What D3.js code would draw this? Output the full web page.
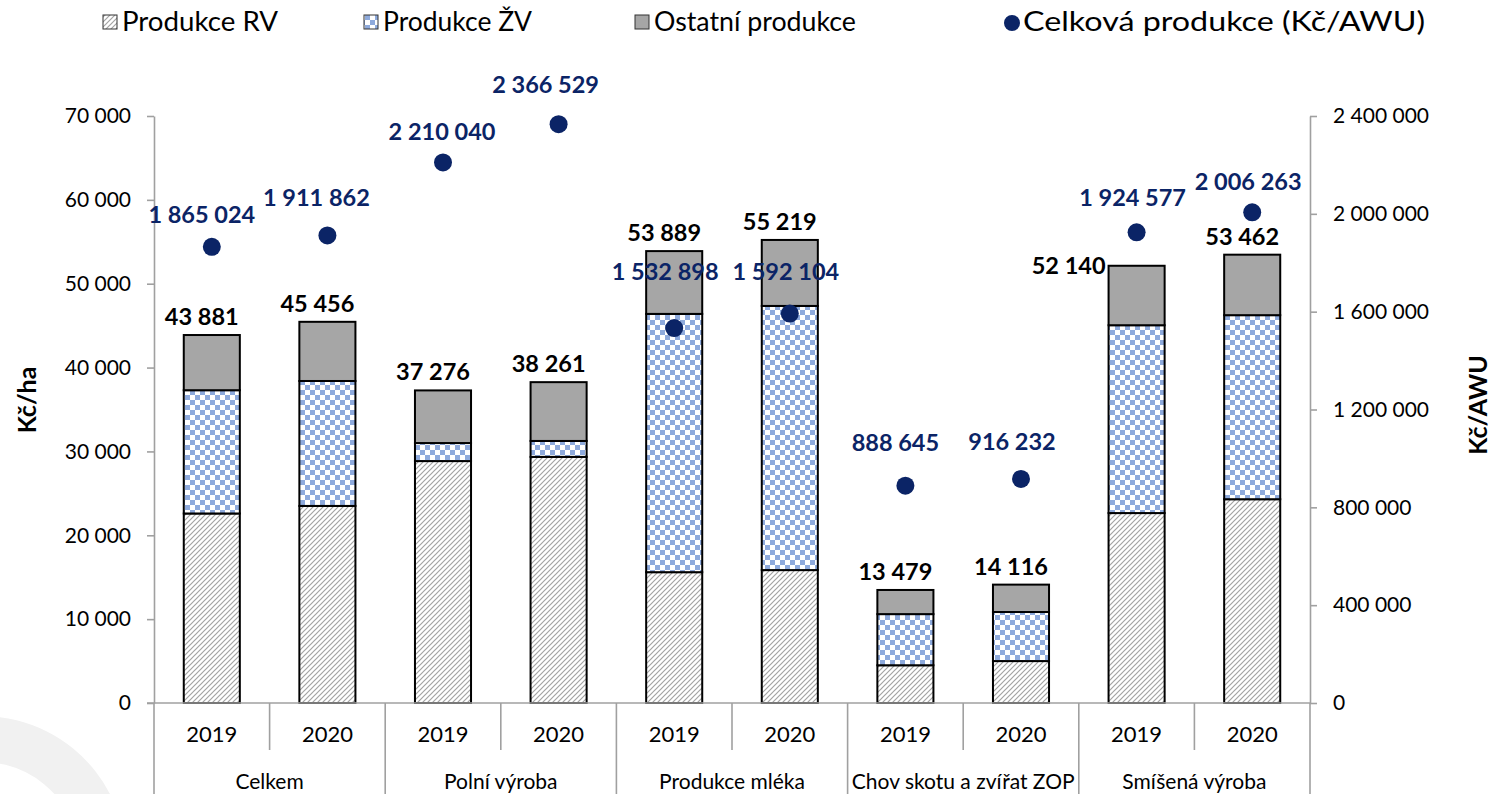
<!DOCTYPE html>
<html><head><meta charset="utf-8">
<script src="https://cdn.jsdelivr.net/npm/d3@7"></script>
<style>
html,body{margin:0;padding:0;background:#fff;}
svg{display:block;font-family:Lato,"Open Sans",sans-serif;}
</style></head>
<body><svg id="chart" width="1493" height="794"></svg>
<script>
const groups = ["Celkem","Polní výroba","Produkce mléka","Chov skotu a zvířat ZOP","Smíšená výroba"];
const years = ["2019","2020"];
const produkceRV = [22600, 23500, 28850, 29350, 15600, 15850, 4500, 5000, 22650, 24300];
const produkceZV = [14700, 14900, 2150, 1900, 30800, 31500, 6100, 5850, 22400, 21950];
const celkemHa = [43881, 45456, 37276, 38261, 53889, 55219, 13479, 14116, 52140, 53462];
const celkemAWU = [1865024, 1911862, 2210040, 2366529, 1532898, 1592104, 888645, 916232, 1924577, 2006263];
const leftTicks = [0,10000,20000,30000,40000,50000,60000,70000];
const rightTicks = [0,400000,800000,1200000,1600000,2000000,2400000];
const seriesNames = ["Produkce RV","Produkce ŽV","Ostatní produkce","Celková produkce (Kč/AWU)"];

const ostatni = celkemHa.map((t,i)=>t - produkceRV[i] - produkceZV[i]);
const keys = d3.range(celkemHa.length);
const rows = keys.map(i=>({i, rv:produkceRV[i], zv:produkceZV[i], ost:ostatni[i]}));

const svg = d3.select("#chart");
const fmt = v => d3.format(",")(v).replace(/,/g," ");
const axisCol = "#a0a0a0";
const navy = "#0b2466";

// watermark arc
svg.append("path")
  .attr("d", d3.arc()({innerRadius:98, outerRadius:144, startAngle:-0.2, endAngle:Math.PI/2}))
  .attr("transform","translate(-18,860)")
  .attr("fill","#f1f1f1");

// patterns
const defs = svg.append("defs");
const ph = defs.append("pattern").attr("id","hatch").attr("patternUnits","userSpaceOnUse")
  .attr("width",5).attr("height",5);
ph.append("rect").attr("width",5).attr("height",5).attr("fill","#fff");
ph.append("path").attr("d","M-1,1 L1,-1 M0,5 L5,0 M4,6 L6,4").attr("stroke","#a3a3a3").attr("stroke-width",1.2);
const pc = defs.append("pattern").attr("id","check").attr("patternUnits","userSpaceOnUse")
  .attr("width",10).attr("height",10);
pc.append("rect").attr("width",10).attr("height",10).attr("fill","#fff");
pc.append("rect").attr("width",5).attr("height",5).attr("fill","#8eaadc");
pc.append("rect").attr("x",5).attr("y",5).attr("width",5).attr("height",5).attr("fill","#8eaadc");

const x0 = 154, x1 = 1310, yTop = 116, yBase = 703;
const x = d3.scaleBand().domain(keys).range([x0,x1]).paddingInner(0.515).paddingOuter(0.2575);
const y = d3.scaleLinear().domain([0,70000]).range([yBase,yTop]);
const y2 = d3.scaleLinear().domain([0,2400000]).range([yBase,yTop]);

// stacked bars
const stack = d3.stack().keys(["rv","zv","ost"]);
const fills = {rv:"url(#hatch)", zv:"url(#check)", ost:"#a6a6a6"};
const layers = stack(rows);
svg.append("g").selectAll("g").data(layers).join("g")
  .attr("fill", d=>fills[d.key])
  .selectAll("rect").data(d=>d).join("rect")
  .attr("x", d=>x(d.data.i)).attr("width", x.bandwidth())
  .attr("y", d=>y(d[1])).attr("height", d=>y(d[0])-y(d[1]))
  .attr("stroke","#000").attr("stroke-width",2);

// axes
const gl = svg.append("g").attr("transform",`translate(${x0},0)`)
  .call(d3.axisLeft(y).tickValues(leftTicks).tickFormat(fmt).tickSize(7).tickSizeOuter(0).tickPadding(16));
const gr = svg.append("g").attr("transform",`translate(${x1},0)`)
  .call(d3.axisRight(y2).tickValues(rightTicks).tickFormat(fmt).tickSize(7).tickSizeOuter(0).tickPadding(16));
[gl,gr].forEach(g=>{
  g.selectAll("path,line").attr("stroke",axisCol).attr("stroke-width",1.6);
  g.selectAll("text").attr("font-size",21).attr("fill","#000").attr("font-family","Lato");
});
// baseline + extended category axis
svg.append("line").attr("x1",x0-7).attr("x2",x1).attr("y1",yBase).attr("y2",yBase)
  .attr("stroke",axisCol).attr("stroke-width",1.6);
svg.append("line").attr("x1",x0).attr("x2",x0).attr("y1",yBase).attr("y2",794)
  .attr("stroke",axisCol).attr("stroke-width",1.6);
const step = x.step();
keys.forEach(i=>{
  const xe = x0 + step*(i+1);
  svg.append("line").attr("x1",xe).attr("x2",xe).attr("y1",yBase)
    .attr("y2", i%2===1 ? 794 : 750).attr("stroke",axisCol).attr("stroke-width",1.6);
  svg.append("text").attr("x", x(i)+x.bandwidth()/2).attr("y",742)
    .attr("text-anchor","middle").attr("font-size",22).text(years[i%2]);
});
groups.forEach((g,j)=>{
  svg.append("text").attr("x", x0 + step*(2*j+1)).attr("y",789)
    .attr("text-anchor","middle").attr("font-size",21).text(g);
});

// axis titles
svg.append("text").attr("transform","translate(36,400) rotate(-90)").attr("text-anchor","middle")
  .attr("font-size",25).attr("font-weight","bold").text("Kč/ha");
svg.append("text").attr("transform","translate(1487,405) rotate(-90)").attr("text-anchor","middle")
  .attr("font-size",25).attr("font-weight","bold").text("Kč/AWU");

// total labels
svg.append("g").selectAll("text").data(keys).join("text")
  .attr("x", i => i===8 ? x(i)-3 : x(i)+x.bandwidth()/2-10)
  .attr("y", i => i===8 ? y(celkemHa[i])+8 : y(celkemHa[i])-10)
  .attr("text-anchor", i => i===8 ? "end" : "middle")
  .attr("font-size",23.5).attr("font-weight","bold").attr("fill","#000")
  .text(i=>fmt(celkemHa[i]));

// AWU dots
svg.append("g").selectAll("circle").data(keys).join("circle")
  .attr("cx", i=>x(i)+x.bandwidth()/2).attr("cy", i=>y2(celkemAWU[i])).attr("r",9).attr("fill",navy);
const awuOff = [[-10,-24],[-11,-29],[-1,-22],[-13,-31],[-9,-48],[-4,-34],[-10,-35],[-9,-29],[-4,-26],[-4,-22]];
svg.append("g").selectAll("text").data(keys).join("text")
  .attr("x", i=>x(i)+x.bandwidth()/2+awuOff[i][0])
  .attr("y", i=>y2(celkemAWU[i])+awuOff[i][1])
  .attr("text-anchor","middle").attr("font-size",23.5).attr("font-weight","bold").attr("fill",navy)
  .text(i=>fmt(celkemAWU[i]));

// legend
const lg = svg.append("g");
const legItems = [
  {x:103, fill:"url(#hatch)", name:seriesNames[0], w:156},
  {x:364, fill:"url(#check)", name:seriesNames[1], w:149},
  {x:635, fill:"#a6a6a6", name:seriesNames[2], w:202}
];
legItems.forEach(d=>{
  lg.append("rect").attr("x",d.x).attr("y",15).attr("width",14).attr("height",14)
    .attr("fill",d.fill).attr("stroke","#333").attr("stroke-width",1);
  lg.append("text").attr("x",d.x+19).attr("y",31).attr("font-size",26)
    .attr("textLength",d.w).attr("lengthAdjust","spacingAndGlyphs").text(d.name);
});
lg.append("circle").attr("cx",1012).attr("cy",23).attr("r",8).attr("fill",navy);
lg.append("text").attr("x",1023).attr("y",31).attr("font-size",26)
  .attr("textLength",402).attr("lengthAdjust","spacingAndGlyphs").text(seriesNames[3]);
</script></body></html>
